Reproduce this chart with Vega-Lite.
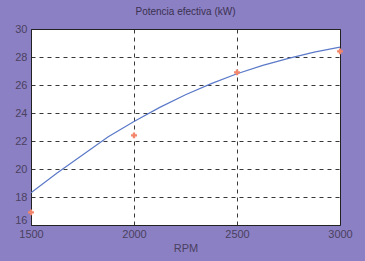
{
  "$schema": "https://vega.github.io/schema/vega-lite/v6.json",
  "autosize": "none",
  "width": 309,
  "height": 196,
  "padding": {"left": 31, "top": 29, "right": 25, "bottom": 36},
  "background": "#8c80c4",
  "title": {"text": "Potencia efectiva (kW)", "fontSize": 10, "font": "Liberation Sans", "fontWeight": "normal", "color": "#3a3050", "offset": 6},
  "config": {
    "view": {"stroke": "#222", "strokeWidth": 1, "fill": "white"},
    "axis": {"labelFont": "Liberation Sans", "labelFontSize": 11, "labelColor": "#4a4060", "titleFont": "Liberation Sans", "titleFontSize": 11, "titleFontWeight": "normal", "titleColor": "#4a4060", "grid": true, "gridColor": "#222", "gridDash": [4, 4], "gridOpacity": 0.9, "domain": false, "ticks": false, "labelOverlap": false, "labelFlush": false}
  },
  "datasets": {
    "curve": [
      {"rpm": 1500, "kw": 18.3},
      {"rpm": 1625, "kw": 19.7},
      {"rpm": 1750, "kw": 21.0},
      {"rpm": 1875, "kw": 22.3},
      {"rpm": 2000, "kw": 23.4},
      {"rpm": 2125, "kw": 24.4},
      {"rpm": 2250, "kw": 25.3},
      {"rpm": 2375, "kw": 26.1},
      {"rpm": 2500, "kw": 26.8},
      {"rpm": 2625, "kw": 27.4},
      {"rpm": 2750, "kw": 27.9},
      {"rpm": 2875, "kw": 28.35},
      {"rpm": 3000, "kw": 28.7}
    ],
    "points": [
      {"rpm": 1500, "kw": 16.9},
      {"rpm": 2000, "kw": 22.4},
      {"rpm": 2500, "kw": 26.9},
      {"rpm": 3000, "kw": 28.4}
    ]
  },
  "encoding": {
    "x": {"field": "rpm", "type": "quantitative", "scale": {"domain": [1500, 3000], "nice": false}, "axis": {"values": [1500, 2000, 2500, 3000], "format": "d", "title": "RPM", "titlePadding": 3, "labelPadding": 3}},
    "y": {"field": "kw", "type": "quantitative", "scale": {"domain": [16, 30], "nice": false, "zero": false}, "axis": {"values": [16, 18, 20, 22, 24, 26, 28, 30], "title": null, "labelPadding": 4, "labelOffset": {"condition": {"test": "datum.value == 16", "value": -5}, "value": 0}}}
  },
  "layer": [
    {
      "data": {"name": "curve"},
      "mark": {"type": "line", "color": "#5b79c8", "strokeWidth": 1.2, "clip": true}
    },
    {
      "data": {"name": "points"},
      "mark": {"type": "point", "shape": "cross", "filled": true, "color": "#f2856a", "size": 35, "opacity": 1}
    }
  ]
}
